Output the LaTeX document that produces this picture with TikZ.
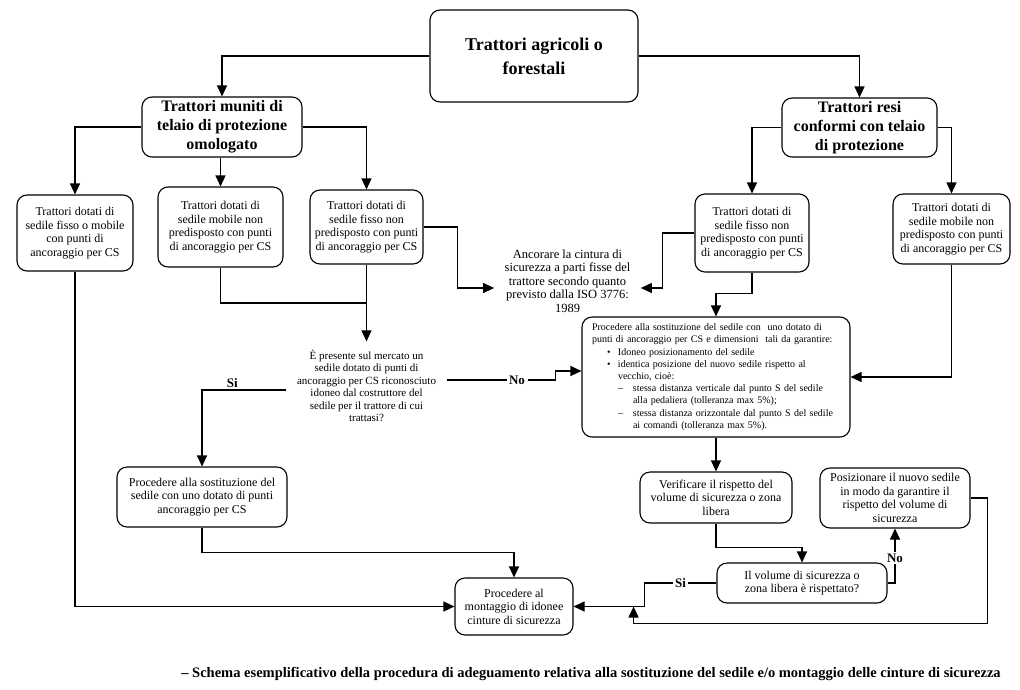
\documentclass[tikz,border=0pt]{standalone}
\usepackage{fontspec}
\setmainfont{Liberation Serif}
\usetikzlibrary{arrows.meta,calc}

\begin{document}
\begin{tikzpicture}[x=1pt, y=-1pt, line width=1.1pt,
  box/.style={draw, rounded corners=10pt, align=center, inner sep=3pt, font=\fontsize{12}{13.5}\selectfont},
  headbox/.style={box, font=\bfseries\fontsize{16}{19}\selectfont},
  plain/.style={align=center, inner xsep=10pt, inner ysep=8pt},
  lbl/.style={font=\bfseries\fontsize{13}{15}\selectfont, fill=white, inner sep=2pt},
  arr/.style={-{Triangle[length=11pt, width=10pt]}}]
\useasboundingbox (0,0) rectangle (1020,689);
% top box
\node[box, font=\bfseries\fontsize{18}{24}\selectfont, minimum width=208pt, minimum height=92pt] (top) at (534,56) {Trattori agricoli o\\forestali};
% two families
\node[headbox, minimum width=160pt, minimum height=60pt] (lhead) at (222,127) {Trattori muniti di\\telaio di protezione\\omologato};
\node[headbox, minimum width=155pt, minimum height=59pt] (rhead) at (859.5,127.5) {Trattori resi\\conformi con telaio\\di protezione};
% seats
\node[box, minimum width=116pt, minimum height=76pt] (l1) at (75,233) {Trattori dotati di\\sedile fisso o mobile\\con punti di\\ancoraggio per CS};
\node[box, minimum width=125pt, minimum height=80pt] (l2) at (220.5,227) {Trattori dotati di\\sedile mobile non\\predisposto con punti\\di ancoraggio per CS};
\node[box, minimum width=113pt, minimum height=74pt] (l3) at (366.5,227) {Trattori dotati di\\sedile fisso non\\predisposto con punti\\di ancoraggio per CS};
\node[box, minimum width=114pt, minimum height=78pt] (r1) at (752,233) {Trattori dotati di\\sedile fisso non\\predisposto con punti\\di ancoraggio per CS};
\node[box, minimum width=117pt, minimum height=70pt] (r2) at (951.5,229) {Trattori dotati di\\sedile mobile non\\predisposto con punti\\di ancoraggio per CS};
% free texts
\node[plain, font=\fontsize{12.5}{13.5}\selectfont] (anc) at (567.5,281) {Ancorare la cintura di\\sicurezza a parti fisse del\\trattore secondo quanto\\previsto dalla ISO 3776:\\1989};
\node[plain, font=\fontsize{11}{12.5}\selectfont] (quest) at (366.5,386) {È presente sul mercato un\\sedile dotato di punti di\\ancoraggio per CS riconosciuto\\idoneo dal costruttore del\\sedile per il trattore di cui\\trattasi?};
% big box
\node[box, align=left, font=\fontsize{10}{12.2}\selectfont, text width=248pt, minimum width=268pt, minimum height=120pt] (big) at (716,377) {%
Procedere alla sostituzione del sedile con\ \ uno dotato di\\
punti di ancoraggio per CS e dimensioni\ \ tali da garantire:\\
\hspace*{15pt}\makebox[11pt][l]{\textbullet}Idoneo posizionamento del sedile\\
\hspace*{15pt}\makebox[11pt][l]{\textbullet}\makebox[222pt][s]{identica posizione del nuovo sedile rispetto al}\\
\hspace*{26pt}vecchio, cioè:\\
\hspace*{26pt}\makebox[15pt][l]{--}\makebox[207pt][s]{stessa distanza verticale dal punto S del sedile}\\
\hspace*{41pt}alla pedaliera (tolleranza max 5\%);\\
\hspace*{26pt}\makebox[15pt][l]{--}\makebox[207pt][s]{stessa distanza orizzontale dal punto S del sedile}\\
\hspace*{41pt}ai comandi (tolleranza max 5\%).};
% lower boxes
\node[box, minimum width=170pt, minimum height=60pt] (subst) at (202,497) {Procedere alla sostituzione del\\sedile con uno dotato di punti\\ancoraggio per CS};
\node[box, minimum width=152pt, minimum height=51pt] (verif) at (716,497.5) {Verificare il rispetto del\\volume di sicurezza o zona\\libera};
\node[box, minimum width=150pt, minimum height=60pt] (posiz) at (895,498) {Posizionare il nuovo sedile\\in modo da garantire il\\rispetto del volume di\\sicurezza};
\node[box, minimum width=170pt, minimum height=40pt] (vol) at (802,583) {Il volume di sicurezza o\\zona libera è rispettato?};
\node[box, minimum width=118pt, minimum height=57pt] (mont) at (514,606.5) {Procedere al\\montaggio di idonee\\cinture di sicurezza};
\node[lbl] (nolbl) at (517,380) {No};
% caption
\node[font=\bfseries\fontsize{14.5}{17}\selectfont] (caption) at (591,674) {– Schema esemplificativo della procedura di adeguamento relativa alla sostituzione del sedile e/o montaggio delle cinture di sicurezza};
% arrows top part
\draw[arr] (top.west) -| (lhead.north);
\draw[arr] (top.east) -| (rhead.north);
\draw[arr] (lhead.west) -| (l1.north);
\draw[arr] (lhead.south -| l2.north) -- (l2.north);
\draw[arr] (lhead.east) -| (l3.north);
\draw[arr] (rhead.west) -| (r1.north);
\draw[arr] (rhead.east) -| (r2.north);
% to Ancorare
\draw[arr] (l3.east) -- ++(34,0) |- ([yshift=-7pt]anc.west);
\draw[arr] (r1.west) -- ++(-32,0) |- ([yshift=-7pt]anc.east);
% to question
\coordinate (join) at (l3.south |- 0,303);
\draw (l2.south) |- (join);
\draw[arr] (l3.south) -- (quest.north);
\draw[arr] ([yshift=-4pt]quest.west) -| node[pos=0.32, lbl, fill=none, above] {Si} (subst.north);
\draw ([yshift=6pt]quest.east) -- (nolbl.west);
\draw[arr] (nolbl.east) -- ++(28,0) |- ([yshift=6pt]big.west);
% right side into big box
\draw[arr] (r1.south) -- ++(0,21) -| (big.north);
\draw[arr] (r2.south) |- (big.east);
% lower part
\draw[arr] (big.south) -- (verif.north);
\draw[arr] (verif.south) -- ++(0,24) -| (vol.north);
\draw[arr] (vol.east) -| node[pos=0.73, lbl] {No} (posiz.south);
\draw[arr] (vol.west) -- node[lbl] {Si} ++(-72,0) |- (mont.east);
\coordinate (back) at ($(mont.east)+(60,0)$);
\draw[arr] (posiz.east) -- ++(17,0) |- ($(back)+(0,17)$) -- (back);
\draw[arr] (subst.south) -- ++(0,25) -| (mont.north);
\draw[arr] (l1.south) |- (mont.west);
\end{tikzpicture}
\end{document}
